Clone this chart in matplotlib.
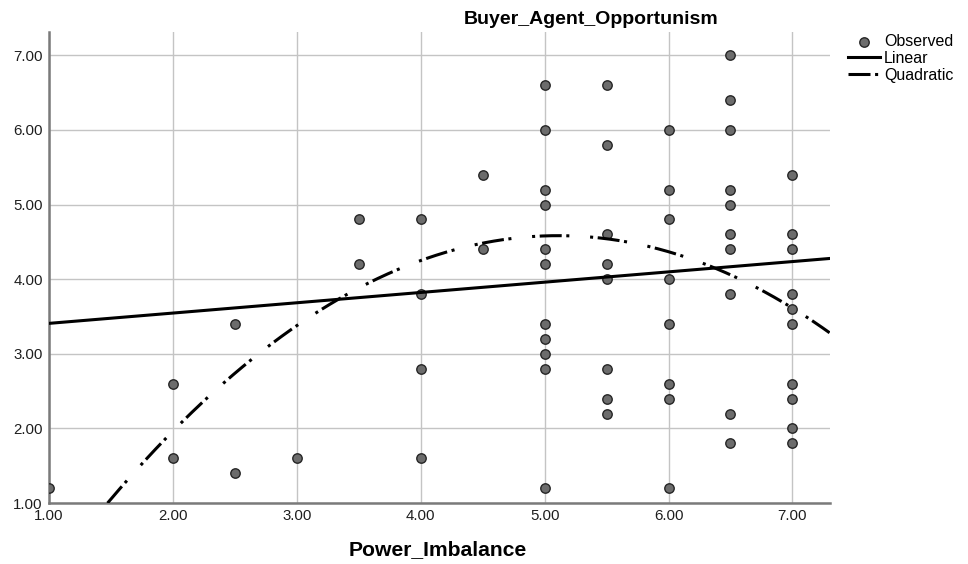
import numpy as np
import matplotlib.pyplot as plt

plt.rcParams['font.family'] = ['Liberation Sans', 'DejaVu Sans']

# observed points (Power_Imbalance, Buyer_Agent_Opportunism)
power_x = [1.0,
           2.0, 2.0,
           2.5, 2.5,
           3.0,
           3.5, 3.5,
           4.0, 4.0, 4.0, 4.0,
           4.5, 4.5,
           5.0, 5.0, 5.0, 5.0, 5.0, 5.0, 5.0, 5.0, 5.0, 5.0, 5.0,
           5.5, 5.5, 5.5, 5.5, 5.5, 5.5, 5.5, 5.5,
           6.0, 6.0, 6.0, 6.0, 6.0, 6.0, 6.0, 6.0,
           6.5, 6.5, 6.5, 6.5, 6.5, 6.5, 6.5, 6.5, 6.5, 6.5,
           7.0, 7.0, 7.0, 7.0, 7.0, 7.0, 7.0, 7.0, 7.0, 7.0]
opportunism_y = [1.2,
                 2.6, 1.6,
                 3.4, 1.4,
                 1.6,
                 4.8, 4.2,
                 4.8, 3.8, 2.8, 1.6,
                 5.4, 4.4,
                 6.6, 6.0, 5.2, 5.0, 4.4, 4.2, 3.4, 3.2, 3.0, 2.8, 1.2,
                 6.6, 5.8, 4.6, 4.2, 4.0, 2.8, 2.4, 2.2,
                 6.0, 5.2, 4.8, 4.0, 3.4, 2.6, 2.4, 1.2,
                 7.0, 6.4, 6.0, 5.2, 5.0, 4.6, 4.4, 3.8, 2.2, 1.8,
                 5.4, 4.6, 4.4, 3.8, 3.6, 3.4, 2.6, 2.4, 2.0, 1.8]

# fitted curve coefficients (highest power first)
linear_coef = [0.138, 3.27]
quadratic_coef = [-0.271, 2.769, -2.49]

ticks = [1, 2, 3, 4, 5, 6, 7]
x_min, x_max = 1.0, 7.3
y_min, y_max = 1.0, 7.31

fig = plt.figure(figsize=(9.68, 5.64), dpi=100)
ax = fig.add_axes([0.0506, 0.108, 0.8064, 0.835])

xs = np.linspace(x_min, x_max, 300)
# quadratic drawn from where it enters the plot so the dash pattern starts at the axis
roots = np.roots(np.polyadd(quadratic_coef, [-y_min]))
q_start = min(r.real for r in roots if r.real > x_min)
xq = np.linspace(q_start, x_max, 300)

ax.scatter(power_x, opportunism_y, s=46, facecolor='#6c6c6c', edgecolor='#262626',
           linewidth=1.0, zorder=3, label='Observed')
ax.plot(xs, np.polyval(linear_coef, xs), color='black', lw=2.2, zorder=4, label='Linear')
quad, = ax.plot(xq, np.polyval(quadratic_coef, xq), color='black', lw=2.2, zorder=4,
                label='Quadratic')
quad.set_dashes((7.2, 1.5, 1.0, 6.8, 1.0, 1.5))

ax.set_xlim(x_min, x_max)
ax.set_ylim(y_min, y_max)
ax.set_xticks(ticks)
ax.set_yticks(ticks)
ax.set_xticklabels([f'{t:.2f}' for t in ticks])
ax.set_yticklabels([f'{t:.2f}' for t in ticks])
ax.tick_params(length=0, labelsize=10.8, colors='#1e1e1e', pad=4.5)
ax.grid(True, color='#c4c4c4', lw=1.0)
ax.set_axisbelow(True)
for s in ['top', 'right']:
    ax.spines[s].set_visible(False)
for s in ['left', 'bottom']:
    ax.spines[s].set_color('#7a7a7a')
    ax.spines[s].set_linewidth(1.8)

fig.text(0.6105, 0.966, 'Buyer_Agent_Opportunism', ha='center', va='center',
         fontsize=14, fontweight='bold')
fig.text(0.4525, 0.025, 'Power_Imbalance', ha='center', va='center',
         fontsize=15.2, fontweight='bold')

fig.legend(loc='upper left', bbox_to_anchor=(0.876, 0.939), frameon=False,
           fontsize=11.5, handlelength=2.0, handletextpad=0.25, labelspacing=0.1,
           borderaxespad=0, borderpad=0)

fig.savefig('out.png', dpi=100)
